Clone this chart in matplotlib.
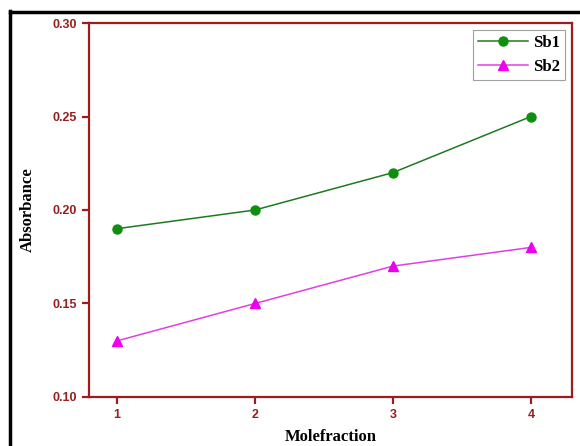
import numpy as np
import matplotlib.pyplot as plt
from matplotlib.lines import Line2D

x = [1, 2, 3, 4]
sb1 = [0.19, 0.20, 0.22, 0.25]
sb2 = [0.13, 0.15, 0.17, 0.18]
xticks = [1, 2, 3, 4]
yticks = [0.10, 0.15, 0.20, 0.25, 0.30]

frame_col = '#a01c1c'

fig = plt.figure(figsize=(5.8, 4.46), dpi=100)
ax = fig.add_axes([0.1534, 0.1099, 0.8328, 0.8385])

ax.plot(x, sb1, color='#1f7a1f', lw=1.1, marker='o', ms=6.5,
        mfc='#0f8f0f', mec='#0f8f0f', label='Sb1')
ax.plot(x, sb2, color='#e040e0', lw=1.1, marker='^', ms=6.5,
        mfc='#ee00ee', mec='#ee00ee', label='Sb2')

ax.set_xlim(0.797, 4.297)
ax.set_ylim(0.10, 0.30)
ax.set_xticks(xticks)
ax.set_yticks(yticks)
ax.set_yticklabels(['%.2f' % v for v in yticks])

for s in ax.spines.values():
    s.set_color(frame_col)
    s.set_linewidth(1.6)
ax.tick_params(direction='out', length=5, width=1.6, color=frame_col,
               labelcolor='#962020', labelsize=9)
for t in ax.get_xticklabels() + ax.get_yticklabels():
    t.set_fontweight('bold')
    t.set_family('Liberation Sans')

ax.set_xlabel('Molefraction', family='Liberation Serif', fontweight='bold',
              fontsize=12, labelpad=6)
ax.set_ylabel('Absorbance', family='Liberation Serif', fontweight='bold',
              fontsize=12, labelpad=12)

leg = ax.legend(loc='upper right', fancybox=False, edgecolor='#888888',
                prop={'family': 'Liberation Serif', 'weight': 'bold', 'size': 12},
                handlelength=3.0, borderpad=0.3, labelspacing=0.5,
                handletextpad=0.3, borderaxespad=0.4)
leg.get_frame().set_linewidth(0.8)

# black border on top and left of the picture
fig.add_artist(Line2D([0.017, 1.0], [0.974, 0.974], color='black', lw=2.5,
                      transform=fig.transFigure))
fig.add_artist(Line2D([0.018, 0.018], [0.0, 0.975], color='black', lw=2.5,
                      transform=fig.transFigure))

fig.savefig('out.png', dpi=100)
